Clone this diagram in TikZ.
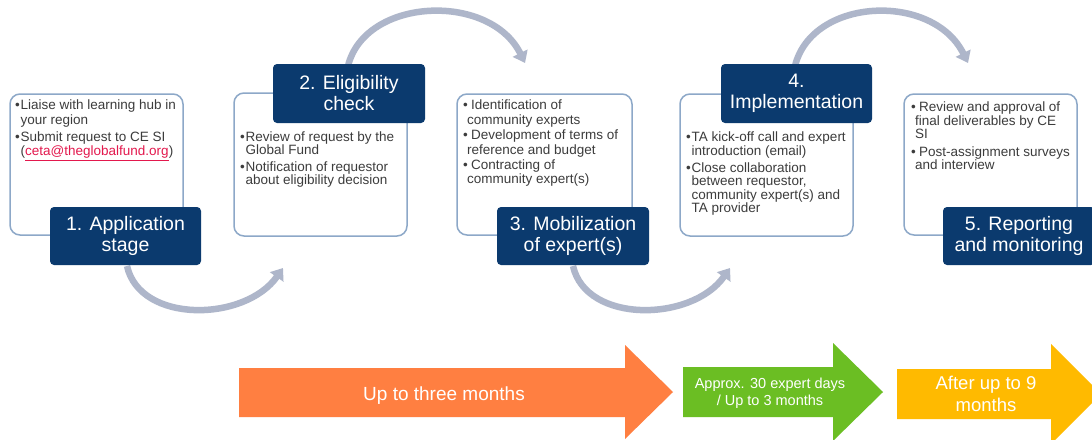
\documentclass[tikz,border=0pt]{standalone}
\usepackage{fontspec}
\setmainfont{Liberation Sans}
\usetikzlibrary{arrows.meta}
\definecolor{navy}{HTML}{0B3A6E}
\definecolor{boxline}{HTML}{8DA8C8}
\definecolor{arcgray}{HTML}{AEB6CA}
\definecolor{bodytext}{HTML}{3C3C3C}
\definecolor{linkred}{HTML}{E3184D}
\definecolor{orangeA}{HTML}{FF7F41}
\definecolor{greenA}{HTML}{6BBE23}
\definecolor{yellowA}{HTML}{FFBA00}
\newcommand{\bl}[1]{\makebox[5.5pt][l]{\textbullet}#1}
\newcommand{\cl}[1]{\hspace*{5.5pt}#1}
\newcommand{\blb}[1]{\makebox[8pt][l]{\textbullet}#1}
\newcommand{\clb}[1]{\hspace*{4pt}#1}
\tikzset{
  whitebox/.style={draw=boxline, line width=1.5pt, rounded corners=10pt, fill=white, inner sep=0pt},
  stagebox/.style={fill=navy, rounded corners=4pt, text=white, align=center,
    font=\fontsize{19.5}{21}\selectfont, inner sep=0pt},
  bodytxt/.style={anchor=north west, inner sep=0pt, align=left, text=bodytext},
  flow/.style={draw=arcgray, line width=6.5pt, -{Triangle[width=16pt,length=11pt]}},
  arrowtext/.style={text=white, align=center, inner sep=0pt},
}
\begin{document}
\begin{tikzpicture}[x=1pt,y=-1pt]
\useasboundingbox[fill=white] (0,0) rectangle (1092,439);
% white boxes
\node[whitebox, minimum width=173pt, minimum height=141pt] (w1) at (96.5,164.5) {};
\node[whitebox, minimum width=173pt, minimum height=143pt] (w2) at (320.5,164.5) {};
\node[whitebox, minimum width=175pt, minimum height=141pt] (w3) at (544.5,164.5) {};
\node[whitebox, minimum width=173pt, minimum height=142pt] (w4) at (766.5,165) {};
\node[whitebox, minimum width=173pt, minimum height=141pt] (w5) at (990.5,164.5) {};
% texts
\node[bodytxt, font=\fontsize{13.5}{14.5}\selectfont] (t1) at (15,100)
  {\bl{Liaise with learning hub in}\\ \cl{your region}\\[2.5pt]
   \bl{Submit request to CE SI}\\ \cl{(\textcolor{linkred}{\underline{ceta@theglobalfund.org}})}};
\node[bodytxt, font=\fontsize{13.5}{13}\selectfont] (t2) at (240,132)
  {\bl{Review of request by the}\\ \cl{Global Fund}\\[4pt]
   \bl{Notification of requestor}\\ \cl{about eligibility decision}};
\node[bodytxt, font=\fontsize{13.5}{14.8}\selectfont] (t3) at (463,100)
  {\blb{Identification of}\\ \clb{community experts}\\
   \blb{Development of terms of}\\ \clb{reference and budget}\\
   \blb{Contracting of}\\ \clb{community expert(s)}};
\node[bodytxt, font=\fontsize{13.5}{13.5}\selectfont] (t4) at (686,132)
  {\bl{TA kick-off call and expert}\\ \cl{introduction (email)}\\[3.5pt]
   \bl{Close collaboration}\\ \cl{between requestor,}\\ \cl{community expert(s) and}\\ \cl{TA provider}};
\node[bodytxt, font=\fontsize{13.5}{12.5}\selectfont] (t5) at (911,102)
  {\blb{Review and approval of}\\ \clb{final deliverables by CE}\\ \clb{SI}\\[5.5pt]
   \blb{Post-assignment surveys}\\ \clb{and interview}};
% flow arcs
\coordinate (a1s) at (127,266);
\coordinate (a1e) at (283,268);
\coordinate (a2s) at (348,66);
\coordinate (a2e) at (525,63);
\coordinate (a3s) at (573,266);
\coordinate (a3e) at (730,268);
\coordinate (a4s) at (795,66);
\coordinate (a4e) at (968,63);
\draw[flow] (a1s) .. controls (140,324) and (245,322) .. (a1e);
\draw[flow] (a2s) .. controls (365,-3) and (490,-8) .. (a2e);
\draw[flow] (a3s) .. controls (586,324) and (692,322) .. (a3e);
\draw[flow] (a4s) .. controls (812,-3) and (933,-8) .. (a4e);
% stage boxes
\node[stagebox, minimum width=151pt, minimum height=58pt] (d1) at (125.5,236) {1. Application\\stage};
\node[stagebox, minimum width=152pt, minimum height=59pt] (d2) at (349,93.5) {2. Eligibility\\check};
\node[stagebox, minimum width=152pt, minimum height=58pt] (d3) at (573,236) {3. Mobilization\\of expert(s)};
\node[stagebox, minimum width=151pt, minimum height=59pt] (d4) at (796.5,93.5) {4.\\Implementation};
\node[stagebox, minimum width=152pt, minimum height=58pt] (d5) at (1019,236) {5. Reporting\\and monitoring};
% timeline arrows
\fill[orangeA] (239,368) -- (625,368) -- (625,345) -- (673,392) -- (625,439) -- (625,417) -- (239,417) -- cycle;
\node[arrowtext, font=\fontsize{19}{21}\selectfont, anchor=base] (o1) at (444,400) {Up to three months};
\fill[greenA] (683,367) -- (833,367) -- (833,343) -- (883,392) -- (833,441) -- (833,417) -- (683,417) -- cycle;
\node[arrowtext, font=\fontsize{14.5}{17}\selectfont] (g1) at (770,393) {Approx. 30 expert days\\/ Up to 3 months};
\fill[yellowA] (897,369) -- (1051,369) -- (1051,344) -- (1101,394) -- (1051,444) -- (1051,419) -- (897,419) -- cycle;
\node[arrowtext, font=\fontsize{18.5}{22}\selectfont] (y1) at (986,394) {After up to 9\\months};
\end{tikzpicture}
\end{document}
